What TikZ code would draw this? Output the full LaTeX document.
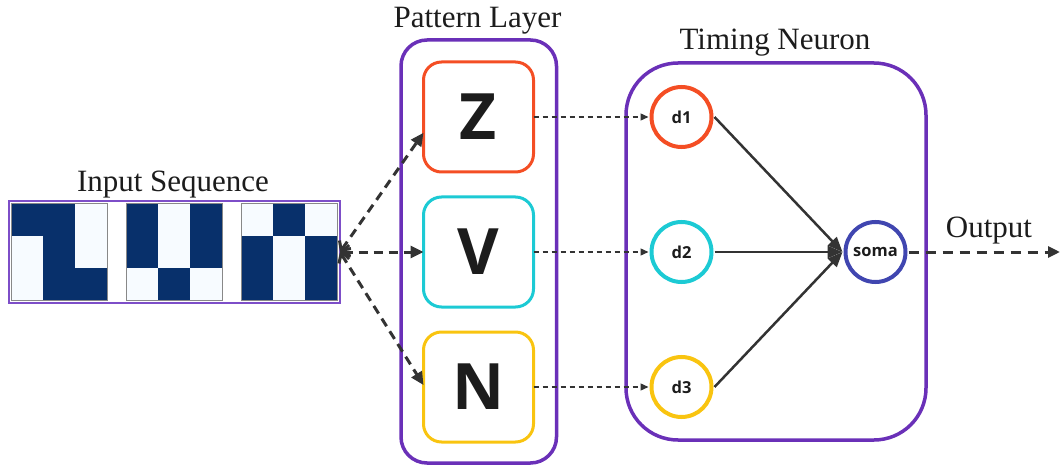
\documentclass[tikz,border=0pt]{standalone}
\usepackage{fontspec}
\setmainfont{Liberation Serif}
\newfontfamily\glyphfont{Open Sans}
\usetikzlibrary{arrows.meta}

\definecolor{ink}{HTML}{1C1C1C}
\definecolor{wire}{HTML}{333333}
\definecolor{frame}{RGB}{106,48,184}
\definecolor{seqframe}{RGB}{125,78,200}
\definecolor{zred}{RGB}{244,78,36}
\definecolor{vcyan}{RGB}{28,202,212}
\definecolor{nyellow}{RGB}{249,196,16}
\definecolor{somablue}{RGB}{64,70,176}
\definecolor{cellfg}{HTML}{08306B}
\definecolor{cellbg}{HTML}{F7FBFF}
\definecolor{gridedge}{HTML}{888888}

% one 3x3 binary pattern: #1 = left edge, #2 = dark cells as col/row
\newcommand\patterngrid[2]{%
  \fill[cellbg] (#1,204) rectangle ++(96,96);
  \foreach \c/\r in {#2}
    \fill[cellfg] ({#1+32*\c},{204+32*\r}) rectangle ++(32,32);
  \draw[gridedge, line width=1pt] (#1,204) rectangle ++(96,96);
}

\begin{document}
\begin{tikzpicture}[x=1pt, y=-1pt,
  lbl/.style={text=ink, inner sep=0, font=\fontsize{31}{36}\selectfont},
  layerbox/.style={draw=frame, line width=3.5pt, rounded corners=#1,
    inner sep=0, outer sep=0},
  patbox/.style={draw=#1, line width=3pt, rounded corners=18pt, minimum size=110pt,
    inner sep=0, outer sep=0, text=ink,
    font=\glyphfont\bfseries\fontsize{64}{64}\selectfont},
  unit/.style={circle, draw=#1, line width=4pt, minimum size=60pt, inner sep=0,
    outer sep=3pt, text=ink, font=\glyphfont\bfseries\fontsize{16.5}{16.5}\selectfont},
  fanout/.style={draw=wire, line width=3pt, dash pattern=on 9pt off 6pt,
    {Straight Barb[length=7pt,width=14pt,line width=3pt]}-{Triangle[length=13pt,width=12pt]}},
  probe/.style={draw=wire, line width=1.3pt, dash pattern=on 5pt off 4pt,
    -{Triangle[length=8pt,width=7pt]}},
  feed/.style={draw=wire, line width=2.5pt, -{Triangle[length=15pt,width=12pt]}},
  emit/.style={draw=wire, line width=3pt, dash pattern=on 10pt off 7pt,
    -{Triangle[length=12pt,width=11pt]}}
]
\useasboundingbox (0,0) rectangle (1061,468);

% input sequence: three 3x3 patterns
\patterngrid{11}{0/0,1/0,1/1,1/2,2/2}
\patterngrid{126}{0/0,2/0,0/1,2/1,1/2}
\patterngrid{241}{1/0,0/1,2/1,0/2,2/2}
\node[draw=seqframe, line width=2pt, minimum width=331pt, minimum height=101pt,
  inner sep=0, outer sep=0] (seq) at (174.5,252) {};
\node[lbl, anchor=base] (seqlbl) at (173,192) {Input Sequence};

% pattern layer
\node[layerbox=26pt, minimum width=155.5pt, minimum height=423pt] (pl) at (478.75,251.5) {};
\node[lbl, anchor=base] (pllbl) at (477.5,28) {Pattern Layer};
\node[patbox=zred]    (z) at (478.5,117) {Z};
\node[patbox=vcyan]   (v) at (478.5,252) {V};
\node[patbox=nyellow] (n) at (478.5,387) {N};

% timing neuron
\node[layerbox=52pt, minimum width=300pt, minimum height=377pt] (tn) at (776,251.5) {};
\node[lbl, anchor=base] (tnlbl) at (775,50) {Timing Neuron};
\node[unit=zred]     (d1)   at (681.5,117) {d1};
\node[unit=vcyan]    (d2)   at (681.5,252) {d2};
\node[unit=nyellow]  (d3)   at (681.5,387) {d3};
\node[unit=somablue] (soma) at (875.5,252) {soma};

% input to pattern detectors
\draw[fanout] (seq.east) -- (z.196);
\draw[fanout] (seq.east) -- (v.west);
\draw[fanout] (seq.east) -- (n.178);

% detectors to dendrites
\draw[probe] (z.east) -- (d1.west);
\draw[probe] (v.east) -- (d2.west);
\draw[probe] (n.east) -- (d3.west);

% dendrites to soma
\draw[feed] (d1.east) -- (soma.west);
\draw[feed] (d2.east) -- (soma.west);
\draw[feed] (d3.east) -- (soma.west);

% output
\coordinate (out) at (1060,252);
\draw[emit] (soma.east) -- (out);
\node[lbl, anchor=base] (outlbl) at (989,237) {Output};
\end{tikzpicture}
\end{document}
